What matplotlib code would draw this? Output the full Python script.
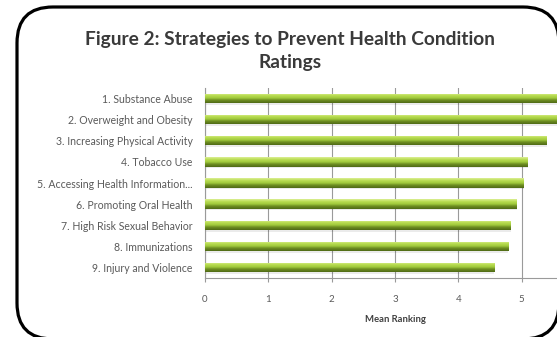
import matplotlib
matplotlib.use('Agg')
import matplotlib.pyplot as plt
from matplotlib.patches import FancyBboxPatch
from matplotlib.colors import LinearSegmentedColormap
import numpy as np

# data
categories = ['1. Substance Abuse',
              '2. Overweight and Obesity',
              '3. Increasing Physical Activity',
              '4. Tobacco Use',
              '5. Accessing Health Information...',
              '6. Promoting Oral Health',
              '7. High Risk Sexual Behavior',
              '8. Immunizations',
              '9. Injury and Violence']
mean_ranking = [5.72, 5.56, 5.40, 5.10, 5.03, 4.92, 4.83, 4.79, 4.57]
x_ticks = [0, 1, 2, 3, 4, 5]
title = 'Figure 2: Strategies to Prevent Health Condition\nRatings'
x_label = 'Mean Ranking'

W, H = 557, 337
fig = plt.figure(figsize=(W / 100, H / 100), dpi=100)
fig.patch.set_facecolor('white')

# background frame (pixel coordinates)
bg = fig.add_axes([0, 0, 1, 1])
bg.set_xlim(0, W)
bg.set_ylim(H, 0)
bg.axis('off')
frame = FancyBboxPatch((17, 7), 542, 332,
                       boxstyle='round,pad=0,rounding_size=36',
                       facecolor='white', edgecolor='black', linewidth=2.3)
bg.add_patch(frame)

bg.text(290, 51, title, ha='center', va='center', fontsize=13.8,
        fontweight='bold', family='Lato', color='#3a3a3a', linespacing=1.4)

# main chart
ax = fig.add_axes([205 / W, 1 - 278 / H, 380 / W, 190 / H])
ax.set_facecolor('white')
ypos = np.arange(len(categories))
bar_h = 0.44

cmap = LinearSegmentedColormap.from_list(
    'bar', [(0.0, '#dcef95'), (0.25, '#b8dc50'), (0.5, '#a0c93c'),
            (0.7, '#6f8f22'), (1.0, '#4f6a16')])
grad = np.linspace(0, 1, 64).reshape(-1, 1)

bars = ax.barh(ypos, mean_ranking, height=bar_h, color='none', zorder=3)
for b in bars:
    x0, y0 = b.get_x(), b.get_y()
    w, h = b.get_width(), b.get_height()
    im = ax.imshow(grad, cmap=cmap, aspect='auto', zorder=3,
                   extent=[x0, x0 + w, y0 + h, y0], interpolation='bilinear')
    im.set_clip_path(b)
    # soft shadow under each bar
    ax.barh(y0 + h / 2 + 0.08, w, height=h, color='#000000', alpha=0.08,
            zorder=2)

ax.set_xlim(0, 6)
ax.set_ylim(len(categories) - 0.5, -0.5)
ax.set_xticks(x_ticks)
ax.set_yticks(ypos)
ax.set_yticklabels(categories, fontsize=7.6, family='Lato', color='#5a5a5a')
ax.set_xticklabels([str(t) for t in x_ticks], fontsize=7, family='Lato',
                   color='#5a5a5a')
ax.tick_params(axis='y', length=0, pad=9)
ax.tick_params(axis='x', length=3, direction='out', color='#999999', pad=9)
ax.grid(axis='x', color='#9a9a9a', linewidth=0.8, zorder=0)
ax.set_axisbelow(True)
for s in ['top', 'right']:
    ax.spines[s].set_visible(False)
for s in ['left', 'bottom']:
    ax.spines[s].set_color('#9a9a9a')
    ax.spines[s].set_linewidth(0.8)

ax.set_xlabel(x_label, fontsize=6.8, family='Lato', fontweight='bold',
              color='#404040', labelpad=8)

fig.savefig('out.png', dpi=100)
